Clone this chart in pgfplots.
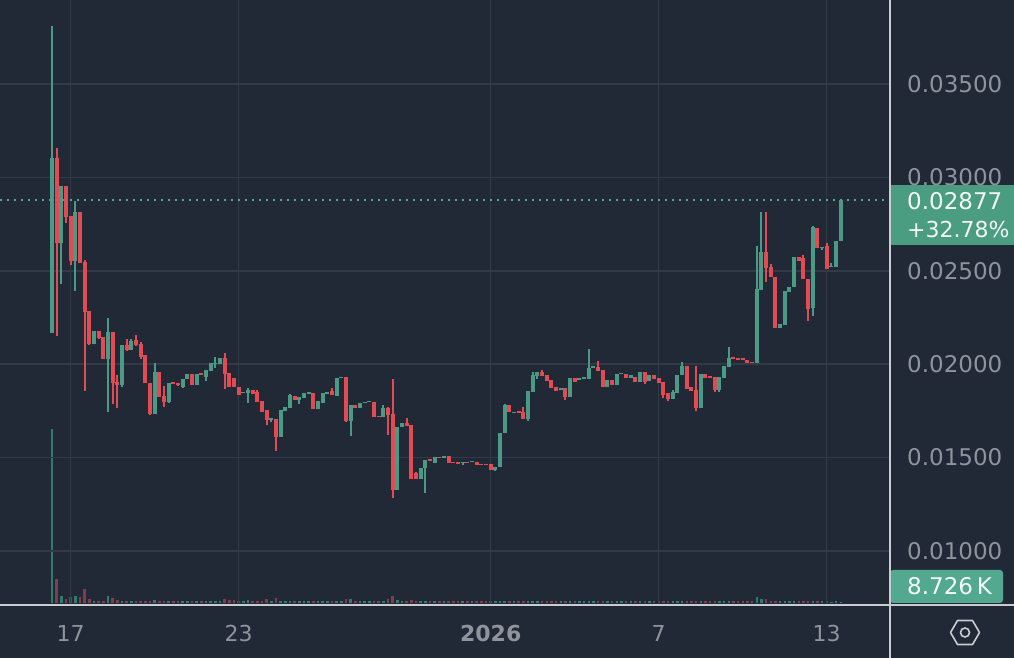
\documentclass[border=0pt]{standalone}
\usepackage{pgfplots}
\usepackage{pgfplotstable}
\usepackage{fontspec}
\setmainfont{DejaVu Sans}
\pgfplotsset{compat=1.18}
\definecolor{bg}{HTML}{212936}
\definecolor{gridc}{HTML}{333A47}
\definecolor{upc}{HTML}{4A9A86}
\definecolor{dnc}{HTML}{E24B53}
\definecolor{volup}{HTML}{2F7A72}
\definecolor{voldn}{HTML}{7C3F4B}
\definecolor{lab}{HTML}{8F949C}
\definecolor{axc}{HTML}{C9CDD2}
\definecolor{tagc}{HTML}{4A9D80}
\definecolor{vtag}{HTML}{52A98F}
\pgfplotstableread{
i o h l c v
0 .02167 .03810 .02167 .03104 870
2 .02649 .02954 .02430 .02954 35
5 .02553 .02874 .02392 .02815 35
9 .02108 .02178 .02108 .02178 14
12 .02028 .02247 .01744 .02173 35
15 .01889 .02103 .01878 .02103 12
17 .02076 .02135 .02076 .02124 12
22 .01734 .02007 .01734 .01958 18
25 .01798 .01900 .01793 .01900 12
28 .01878 .01921 .01873 .01921 12
29 .01921 .01948 .01921 .01948 12
31 .01889 .01948 .01889 .01948 12
33 .01932 .01969 .01910 .01969 12
34 .01964 .02007 .01964 .02007 12
35 .02001 .02039 .01980 .02007 12
36 .02001 .02033 .02001 .02033 12
41 .01846 .01851 .01846 .01851 12
42 .01846 .01873 .01793 .01862 18
47 .01702 .01712 .01691 .01712 12
49 .01611 .01755 .01611 .01755 12
50 .01750 .01771 .01750 .01771 12
51 .01766 .01841 .01766 .01835 12
53 .01809 .01825 .01787 .01825 12
54 .01819 .01846 .01819 .01846 12
55 .01841 .01851 .01841 .01851 12
57 .01760 .01803 .01760 .01803 12
58 .01793 .01846 .01793 .01846 12
59 .01841 .01851 .01841 .01851 12
61 .01830 .01926 .01830 .01926 12
62 .01926 .01932 .01926 .01932 12
64 .01696 .01782 .01616 .01782 20
66 .01766 .01793 .01766 .01793 12
67 .01793 .01798 .01793 .01798 12
68 .01798 .01803 .01798 .01803 12
71 .01718 .01782 .01718 .01766 12
74 .01327 .01664 .01327 .01664 18
75 .01664 .01686 .01664 .01686 12
79 .01386 .01445 .01386 .01445 12
80 .01445 .01488 .01311 .01488 14
82 .01471 .01504 .01471 .01504 12
84 .01498 .01509 .01498 .01509 12
88 .01471 .01477 .01461 .01477 12
90 .01477 .01482 .01477 .01482 12
95 .01434 .01450 .01429 .01450 12
96 .01450 .01632 .01450 .01632 14
97 .01632 .01787 .01632 .01782 14
99 .01739 .01744 .01739 .01744 12
102 .01707 .01857 .01696 .01857 14
103 .01851 .01958 .01851 .01942 14
104 .01937 .01958 .01921 .01958 12
109 .01862 .01873 .01862 .01873 10
111 .01825 .01926 .01825 .01926 12
113 .01916 .01926 .01916 .01926 10
114 .01921 .01932 .01921 .01932 10
115 .01921 .02082 .01921 .01980 12
116 .01980 .01991 .01980 .01991 10
119 .01878 .01916 .01878 .01916 10
121 .01889 .01948 .01889 .01948 10
122 .01948 .01953 .01948 .01953 10
124 .01926 .01942 .01926 .01942 10
126 .01905 .01958 .01905 .01958 10
128 .01910 .01942 .01910 .01942 10
133 .01814 .01862 .01814 .01851 10
134 .01846 .01942 .01846 .01942 10
135 .01942 .02012 .01942 .01991 10
139 .01766 .01948 .01766 .01948 12
143 .01862 .01932 .01851 .01932 10
144 .01926 .01991 .01926 .01991 10
145 .01985 .02092 .01985 .02033 12
151 .02007 .02633 .02007 .02403 34
152 .02397 .02815 .02397 .02601 24
156 .02194 .02215 .02194 .02215 10
157 .02210 .02392 .02210 .02392 12
158 .02387 .02413 .02387 .02413 10
159 .02413 .02574 .02413 .02574 12
163 .02301 .02740 .02258 .02735 14
165 .02622 .02628 .02611 .02628 10
167 .02521 .02542 .02521 .02526 8.726
168 .02521 .02660 .02521 .02660 10
169 .02660 .02877 .02660 .02877 8.726
}\upT
\pgfplotstableread{
i o h l c v
1 .03104 .03158 .02151 .02649 120
3 .02954 .02954 .02756 .02788 20
4 .02793 .02793 .02531 .02553 32
6 .02815 .02815 .02542 .02542 30
7 .02547 .02558 .01857 .02280 72
8 .02285 .02285 .02103 .02108 20
10 .02178 .02178 .02135 .02140 14
11 .02146 .02146 .02028 .02028 14
13 .02173 .02173 .01787 .01900 25
14 .01905 .01942 .01766 .01889 18
16 .02103 .02135 .02071 .02076 12
18 .02130 .02156 .02098 .02103 12
19 .02108 .02119 .02028 .02039 12
20 .02049 .02049 .01900 .01900 12
21 .01900 .01900 .01728 .01734 12
23 .01958 .01958 .01825 .01825 14
24 .01830 .01884 .01771 .01798 12
26 .01905 .01905 .01894 .01894 12
27 .01900 .01900 .01884 .01889 12
30 .01948 .01948 .01889 .01889 12
32 .01953 .01953 .01942 .01942 12
37 .02033 .02060 .01867 .01948 20
38 .01953 .01953 .01878 .01878 16
39 .01926 .01926 .01878 .01878 16
40 .01878 .01878 .01835 .01835 14
43 .01862 .01862 .01841 .01841 12
44 .01851 .01862 .01798 .01798 12
45 .01803 .01803 .01744 .01744 14
46 .01755 .01755 .01675 .01702 20
48 .01707 .01707 .01536 .01611 28
52 .01830 .01830 .01809 .01809 12
56 .01846 .01846 .01760 .01760 12
60 .01857 .01873 .01835 .01835 12
63 .01932 .01932 .01691 .01696 20
65 .01782 .01782 .01766 .01766 12
69 .01798 .01798 .01718 .01718 12
70 .01723 .01723 .01718 .01718 12
72 .01766 .01771 .01621 .01728 20
73 .01734 .01921 .01284 .01327 38
76 .01686 .01712 .01669 .01669 12
77 .01675 .01675 .01386 .01386 18
78 .01418 .01423 .01386 .01386 12
81 .01493 .01493 .01482 .01482 12
83 .01504 .01504 .01498 .01498 12
85 .01509 .01509 .01471 .01471 12
86 .01477 .01477 .01471 .01471 10
87 .01477 .01477 .01466 .01466 10
89 .01477 .01477 .01471 .01471 10
91 .01477 .01477 .01461 .01461 10
92 .01466 .01466 .01461 .01461 10
93 .01466 .01466 .01461 .01461 10
94 .01466 .01466 .01434 .01434 10
98 .01782 .01782 .01744 .01744 12
100 .01750 .01750 .01739 .01739 10
101 .01744 .01771 .01707 .01707 10
105 .01958 .01969 .01937 .01937 10
106 .01942 .01942 .01910 .01910 10
107 .01916 .01916 .01873 .01873 10
108 .01878 .01878 .01857 .01857 10
110 .01873 .01873 .01809 .01825 12
112 .01926 .01926 .01905 .01905 10
117 .01985 .02017 .01964 .01964 12
118 .01969 .01969 .01878 .01878 12
120 .01916 .01916 .01889 .01889 10
123 .01948 .01948 .01926 .01926 10
125 .01932 .01932 .01905 .01905 10
127 .01958 .01958 .01894 .01905 10
129 .01942 .01942 .01921 .01921 10
130 .01926 .01926 .01900 .01900 10
131 .01905 .01905 .01819 .01835 12
132 .01846 .01846 .01803 .01814 10
136 .01991 .01991 .01867 .01867 12
137 .01878 .01878 .01857 .01857 10
138 .01862 .01991 .01750 .01766 14
140 .01948 .01948 .01926 .01926 10
141 .01937 .01937 .01926 .01926 10
142 .01932 .01932 .01851 .01862 10
146 .02039 .02039 .02028 .02028 10
147 .02033 .02033 .02023 .02023 10
148 .02033 .02033 .02023 .02023 10
149 .02023 .02023 .02007 .02007 10
150 .02012 .02012 .02007 .02007 10
153 .02601 .02815 .02440 .02515 24
154 .02521 .02537 .02467 .02467 14
155 .02467 .02467 .02194 .02194 14
160 .02574 .02574 .02553 .02553 10
161 .02569 .02585 .02456 .02456 12
162 .02456 .02456 .02231 .02296 14
164 .02729 .02729 .02622 .02622 12
166 .02633 .02649 .02510 .02510 12
}\dnT
\begin{document}
\begin{tikzpicture}[x=1pt,y=1pt]
\path[use as bounding box,fill=bg] (0,0) rectangle (1014,658);
% volume pane
\begin{axis}[
  at={(0pt,53pt)},anchor=south west,scale only axis,width=890pt,height=605pt,
  xmin=-11.14,xmax=179.56,ymin=-8,ymax=3017,hide axis,xtick=\empty,ytick=\empty]
\addplot[ycomb,no marks,draw=volup,line width=2.4pt] table[x=i,y=v]{\upT};
\addplot[ycomb,no marks,draw=voldn,line width=2.4pt] table[x=i,y=v]{\dnT};
\end{axis}
% price pane
\begin{axis}[
  at={(0pt,53pt)},anchor=south west,scale only axis,width=890pt,height=605pt,
  xmin=-11.14,xmax=179.56,ymin=0.00711,ymax=0.03950,
  axis line style={draw=none},
  grid=major,grid style={gridc,line width=1.5pt},
  major tick length=0pt,
  ytick={0.01,0.015,0.02,0.025,0.03,0.035},
  yticklabels={0.01000,0.01500,0.02000,0.02500,0.03000,0.03500},
  yticklabel pos=right,
  yticklabel style={anchor=west,xshift=17pt,inner sep=0pt,text=lab,font=\fontsize{23}{23}\selectfont},
  xtick={4,40,94,130,166},
  xticklabels={17,23,\textbf{2026},7,13},
  xticklabel style={anchor=center,yshift=-28pt,inner sep=0pt,text=lab,font=\fontsize{22}{22}\selectfont},
]
\addplot[draw=upc!90!white,line width=2pt,dash pattern=on 2pt off 5pt,no marks,forget plot] coordinates {(-11.14,0.02877) (179.56,0.02877)};
% wicks
\addplot[draw=none,forget plot,error bars/.cd,y dir=both,y explicit,error mark=none,error bar style={line width=1.8pt,color=upc}]
  table[x=i,y=o,y error plus expr=\thisrow{h}-\thisrow{o},y error minus expr=\thisrow{o}-\thisrow{l}]{\upT};
\addplot[draw=none,forget plot,error bars/.cd,y dir=both,y explicit,error mark=none,error bar style={line width=1.8pt,color=dnc}]
  table[x=i,y=o,y error plus expr=\thisrow{h}-\thisrow{o},y error minus expr=\thisrow{o}-\thisrow{l}]{\dnT};
% bodies
\addplot[draw=none,forget plot,error bars/.cd,y dir=both,y explicit,error mark=none,error bar style={line width=4.2pt,color=upc}]
  table[x=i,y=o,y error plus expr=\thisrow{c}-\thisrow{o},y error minus expr=0]{\upT};
\addplot[draw=none,forget plot,error bars/.cd,y dir=both,y explicit,error mark=none,error bar style={line width=4.2pt,color=dnc}]
  table[x=i,y=o,y error plus expr=0,y error minus expr=\thisrow{o}-\thisrow{c}]{\dnT};
\end{axis}
% right-hand tags
\fill[tagc] (890,413) rectangle (1014,473);
\node[anchor=west,inner sep=0pt,text=white!94!tagc,font=\fontsize{23}{23}\selectfont] at (907,457) {0.02877};
\node[anchor=west,inner sep=0pt,text=white!94!tagc,font=\fontsize{22}{22}\selectfont] at (907,429) {+32.78\%};
\fill[vtag,rounded corners=3pt] (890,55) rectangle (1003,88);
\node[anchor=west,inner sep=0pt,text=white!94!vtag,font=\fontsize{23}{23}\selectfont] at (907,72) {8.726\,K};
% frame lines
\draw[axc,line width=2pt] (890,0) -- (890,658);
\draw[axc,line width=2pt] (0,53) -- (1014,53);
% settings icon
\draw[axc,line width=1.6pt,line join=round] (950.5,25.5) -- (957.5,37.5) -- (972.5,37.5) -- (979.5,25.5) -- (972.5,13.5) -- (957.5,13.5) -- cycle;
\draw[axc,line width=1.6pt] (965,25.5) circle (4.5);
\end{tikzpicture}
\end{document}
